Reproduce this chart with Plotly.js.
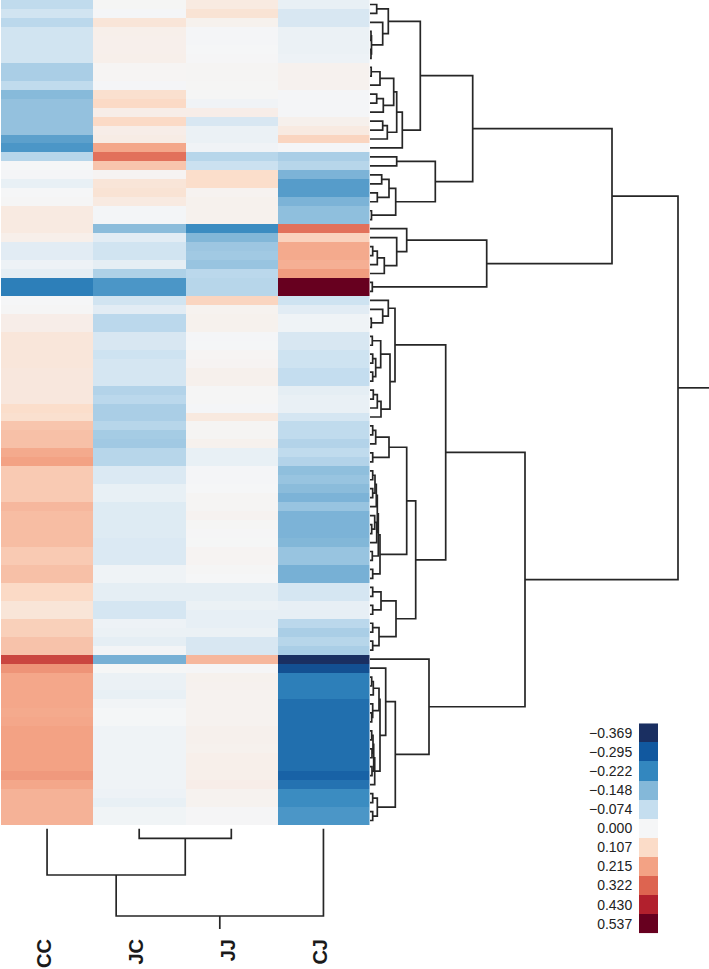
<!DOCTYPE html>
<html>
<head>
<meta charset="utf-8">
<script src="https://cdn.plot.ly/plotly-3.0.1.min.js"></script>
<style>html,body{margin:0;padding:0;background:#fff;}#chart{width:709px;height:969px;}</style>
</head>
<body>
<div id="chart"></div>
<script>
const columnLabels = ["CC", "JC", "JJ", "CJ"];

const CC = [-0.08,-0.055,-0.085,-0.055,-0.055,-0.055,-0.055,-0.105,-0.105,-0.08,-0.145,-0.13,-0.13,-0.13,-0.13,-0.185,-0.2,-0.09,0.0,-0.002,-0.02,0.0,0.005,0.05,0.05,0.05,0.03,-0.03,-0.03,-0.012,-0.025,-0.235,-0.235,
 0.0,0.004,0.035,0.035,0.065,0.065,0.065,0.065,0.06,0.06,0.06,0.06,0.1,0.09,0.15,0.16,0.16,0.2,0.215,0.14,0.14,0.14,0.14,0.175,0.165,0.165,0.165,0.165,0.14,0.14,0.16,0.16,
 0.11,0.11,0.07,0.07,0.13,0.13,0.155,0.155,0.37,0.24,0.205,0.205,0.205,0.205,0.2,0.205,0.215,0.215,0.215,0.215,0.215,0.23,0.205,0.185,0.185,0.185,0.185];

const JC = [0.006,-0.002,0.07,0.03,0.028,0.028,0.03,0.01,0.01,-0.002,0.09,0.11,0.035,0.11,0.035,0.04,0.205,0.3,0.15,0.012,0.07,0.08,0.05,-0.003,-0.003,-0.14,-0.03,-0.055,-0.055,-0.025,-0.1,-0.2,-0.2,
 -0.055,-0.03,-0.085,-0.085,-0.045,-0.045,-0.06,-0.05,-0.05,-0.05,-0.095,-0.085,-0.105,-0.105,-0.09,-0.11,-0.115,-0.09,-0.09,-0.04,-0.04,-0.02,-0.02,-0.035,-0.035,-0.035,-0.035,-0.04,-0.04,-0.04,-0.01,-0.01,
 -0.025,-0.025,-0.05,-0.05,-0.012,-0.015,-0.025,-0.005,-0.16,0.002,-0.015,-0.015,-0.02,-0.006,-0.001,-0.001,-0.01,-0.01,-0.01,-0.01,-0.01,-0.01,-0.01,-0.012,-0.02,-0.007,-0.007];

const JJ = [0.05,0.08,0.022,-0.002,-0.002,0.0,0.003,0.008,0.008,0.006,0.005,-0.008,0.035,-0.045,-0.015,-0.015,-0.008,-0.09,-0.065,0.1,0.1,0.015,0.022,0.022,0.022,-0.215,-0.15,-0.12,-0.115,-0.125,-0.085,-0.09,-0.09,
 0.12,0.018,0.022,0.022,-0.002,-0.001,0.01,0.012,0.025,0.025,0.005,0.005,-0.002,0.055,0.008,0.008,0.022,-0.02,-0.02,-0.002,-0.002,0.0,0.008,0.008,0.016,0.006,0.003,0.002,0.012,0.012,0.005,0.001,
 -0.025,-0.025,-0.015,-0.022,-0.022,-0.015,-0.045,-0.045,0.175,0.003,0.022,0.02,0.018,0.018,0.018,0.018,0.025,0.025,0.022,0.03,0.03,0.03,0.035,0.018,0.018,0.003,0.003];

const CJ = [-0.02,-0.045,-0.045,-0.015,-0.015,-0.015,-0.012,0.02,0.02,0.02,-0.002,-0.002,-0.002,0.025,0.05,0.12,-0.002,-0.105,-0.09,-0.155,-0.19,-0.19,-0.155,-0.135,-0.135,0.3,0.125,0.2,0.2,0.19,0.225,0.537,0.537,
 -0.06,-0.03,-0.01,-0.01,-0.045,-0.045,-0.06,-0.06,-0.075,-0.075,-0.025,-0.018,-0.018,-0.05,-0.08,-0.08,-0.095,-0.08,-0.095,-0.135,-0.125,-0.14,-0.155,-0.125,-0.155,-0.155,-0.155,-0.15,-0.125,-0.125,-0.16,-0.16,
 -0.05,-0.05,-0.022,-0.022,-0.085,-0.105,-0.09,-0.105,-0.369,-0.31,-0.235,-0.235,-0.235,-0.26,-0.26,-0.26,-0.26,-0.26,-0.26,-0.26,-0.26,-0.28,-0.255,-0.215,-0.215,-0.2,-0.2];

const legendValues = [-0.369,-0.295,-0.222,-0.148,-0.074,0.0,0.107,0.215,0.322,0.43,0.537];
const legendLabels = ["\u22120.369","\u22120.295","\u22120.222","\u22120.148","\u22120.074","0.000","0.107","0.215","0.322","0.430","0.537"];
const legendColors = ["#1a2f61","#11589f","#3387bf","#84b8d9","#c5deef","#f5f6f7","#fbdcc8","#f3a284","#dd6450","#b2202d","#67001f"];

// [merge distance, left branch, right branch]; a bare number is a row or column index
const rowTreeUpper = [50.3,
  [18.3,[6.7,0,1],[12.7,2,[1.5,[1,3,4],[1,5,6]]]],
  [32.3,[26.7,[23.7,[10,[1.2,7,8],9],[13.3,[6.7,10,11],12]],[17.3,[12.7,13,14],15]],16]];
const rowTreeBlue = [65.3,[26.7,17,18],[25.7,[19,[11.7,19,20],[7.3,21,22]],[1.5,23,24]]];
const rowTreeRed = [116.7,[36.7,25,[26.7,26,[14.3,[7.3,[2.7,27,28],29],30]]],[2.3,31,32]];
const rowTreeMiddleA = [25,
  [18.3,33,[12.7,34,[1.3,35,36]]],
  [20,[10.7,[2.3,37,38],[5.7,[2.7,39,40],[2.7,41,42]]],[11,[7.3,[3.3,43,44],45],46]]];
const rowTreeMiddleB = [36.7,
  [19,[5.7,[2.7,47,48],49],[2.7,50,51]],
  [10,[8.3,[7.3,[6.3,[5,[2.7,52,53],[2.7,54,55]],56],[6.7,[4.7,57,[1.7,58,59]],60]],[2.3,61,62]],[2.7,63,64]]];
const rowTreeMiddleC = [26,[11,[2.7,65,66],[2.7,67,68]],[9,[2.7,69,70],[2.7,71,72]]];
const rowTreeLower = [59,73,
  [25.3,[15.7,74,[10,[9,[3.3,[1.7,75,76],77],[2.7,78,[1.7,79,80]]],[4.7,[3.7,[3,[1.7,81,82],[2,83,84]],[2,85,86]],87]]],
        [7.3,[2.7,88,89],[2.7,90,91]]]];
const rowTree = [308,
  [242,[102.7,rowTreeUpper,rowTreeBlue],rowTreeRed],
  [155,[75.7,rowTreeMiddleA,[45.7,rowTreeMiddleB,rowTreeMiddleC]],rowTreeLower]];
const rowAxisMax = 339;

const colTree = [87.5,[46.5,0,[9.8,1,2]],3];
const colAxisMax = 100.5;

const W = 709, H = 969;
const lineColor = "#262626";

function segments(tree, axisMax) {
  const h = [], p = [];
  function walk(node) {
    if (typeof node === "number") return {pos: node, d: 0};
    const a = walk(node[1]), b = walk(node[2]), d = node[0];
    h.push(a.d, d, d, b.d, null);
    p.push(a.pos, a.pos, b.pos, b.pos, null);
    return {pos: (a.pos + b.pos) / 2, d: d};
  }
  const top = walk(tree);
  h.push(top.d, axisMax, null);
  p.push(top.pos, top.pos, null);
  return {h, p};
}

const z = CC.map((_, i) => [CC[i], JC[i], JJ[i], CJ[i]]);
const zmin = legendValues[0], zmax = legendValues[legendValues.length - 1];
const colorscale = legendValues.map((v, i) => [(v - zmin) / (zmax - zmin), legendColors[i]]);

const rowSeg = segments(rowTree, rowAxisMax);
const colSeg = segments(colTree, colAxisMax);

const px = v => v / W;
const py = v => 1 - v / H;
const off = {visible: false, fixedrange: true};

const data = [
  {type: "heatmap", z, x: [0,1,2,3], y: z.map((_, i) => i), xaxis: "x", yaxis: "y",
   colorscale, zmin, zmax, showscale: false, hoverinfo: "skip"},
  {type: "scatter", mode: "lines", x: rowSeg.h, y: rowSeg.p, xaxis: "x2", yaxis: "y",
   line: {color: lineColor, width: 1.7}, hoverinfo: "skip", showlegend: false},
  {type: "scatter", mode: "lines", x: colSeg.p, y: colSeg.h, xaxis: "x4", yaxis: "y2",
   line: {color: lineColor, width: 1.7}, hoverinfo: "skip", showlegend: false},
  {type: "heatmap", z: legendValues.map(v => [v]), x: [0], y: legendLabels, xaxis: "x3", yaxis: "y3",
   colorscale, zmin, zmax, showscale: false, hoverinfo: "skip"}
];

const layout = {
  width: W, height: H, margin: {l: 0, r: 0, t: 0, b: 0},
  paper_bgcolor: "#fff", plot_bgcolor: "#fff", showlegend: false,
  font: {family: "Liberation Sans, Arial, sans-serif", color: "#222"},
  xaxis: Object.assign({domain: [px(1), px(369.5)], range: [-0.5, 3.5], anchor: "y"}, off),
  yaxis: Object.assign({domain: [py(825), 1], range: [91.5, -0.5], anchor: "x"}, off),
  xaxis2: Object.assign({domain: [px(370), 1], range: [0, rowAxisMax], anchor: "y"}, off),
  xaxis4: {domain: [px(1), px(369.5)], range: [-0.5, 3.5], anchor: "y2", fixedrange: true,
    showline: false, showgrid: false, zeroline: false, tickmode: "array", tickvals: [0,1,2,3],
    ticktext: columnLabels, tickangle: -90, ticks: "outside", ticklen: 1, tickcolor: "rgba(0,0,0,0)",
    ticklabelshift: -3,
    tickfont: {family: "Liberation Sans, Arial, sans-serif", size: 20, weight: 700, color: "#1a1a1a"}},
  yaxis2: Object.assign({domain: [py(929), py(828.5)], range: [colAxisMax, 0], anchor: "x4"}, off),
  xaxis3: Object.assign({domain: [px(639), px(658.3)], anchor: "y3"}, off),
  yaxis3: {domain: [py(933.3), py(723.3)], anchor: "x3", autorange: "reversed", type: "category",
    fixedrange: true, showline: false, showgrid: false, zeroline: false,
    tickmode: "array", tickvals: legendLabels, ticktext: legendLabels,
    ticks: "outside", ticklen: 3, tickcolor: "rgba(0,0,0,0)",
    tickfont: {family: "Liberation Sans, Arial, sans-serif", size: 14, color: "#222"}}
};

Plotly.newPlot("chart", data, layout, {displayModeBar: false, staticPlot: true});
</script>
</body>
</html>
